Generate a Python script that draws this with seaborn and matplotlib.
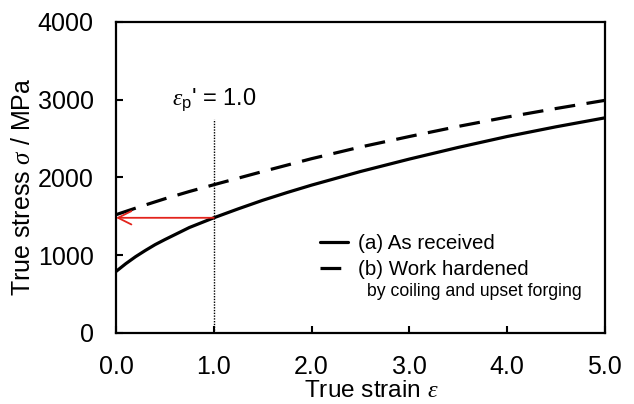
import matplotlib
matplotlib.use("Agg")
import matplotlib.pyplot as plt
import seaborn as sns
import pandas as pd

# ---- data ----
strain_a = [0.0, 0.1, 0.2, 0.3, 0.4, 0.5, 0.6, 0.75, 1.0, 1.25, 1.5, 1.75, 2.0, 2.5, 3.0, 3.5, 4.0, 4.5, 5.0]
stress_received = [790, 890, 980, 1060, 1135, 1200, 1262, 1355, 1480, 1595, 1705, 1805, 1900, 2075, 2235, 2385, 2525, 2650, 2765]
strain_b = [0.0, 0.25, 0.5, 0.75, 1.0, 1.5, 2.0, 2.5, 3.0, 3.5, 4.0, 4.5, 5.0]
stress_hardened = [1520, 1625, 1725, 1818, 1905, 2075, 2240, 2390, 2525, 2655, 2775, 2885, 2990]
label_a = "(a) As received"
label_b = "(b) Work hardened"
label_b2 = "by coiling and upset forging"
eps_p = 1.0
eps_p_line_top = 2750
arrow_stress = 1480
xticks = [0.0, 1.0, 2.0, 3.0, 4.0, 5.0]
xticklabels = ["0.0", "1.0", "2.0", "3.0", "4.0", "5.0"]
yticks = [0, 1000, 2000, 3000, 4000]

df_a = pd.DataFrame({"strain": strain_a, "stress": stress_received})
df_b = pd.DataFrame({"strain": strain_b, "stress": stress_hardened})

sns.set_style("ticks")
plt.rcParams["font.family"] = ["Liberation Sans", "DejaVu Sans"]
plt.rcParams["mathtext.fontset"] = "custom"
plt.rcParams["mathtext.rm"] = "Liberation Sans"
plt.rcParams["mathtext.it"] = "Liberation Serif:italic"

fig = plt.figure(figsize=(6.34, 4.04), dpi=100)
ax = fig.add_axes([0.183, 0.176, 0.771, 0.770])

sns.lineplot(data=df_a, x="strain", y="stress", ax=ax, color="black",
             linewidth=2.3, label=label_a)
sns.lineplot(data=df_b, x="strain", y="stress", ax=ax, color="black",
             linewidth=2.3, label=label_b)
ax.lines[1].set_dashes((6.5, 3.6))

ax.plot([eps_p, eps_p], [0, eps_p_line_top], color="black", linestyle=(0, (1, 1.0)), linewidth=1.0)
ax.annotate("", xy=(0.0, arrow_stress), xytext=(eps_p, arrow_stress),
            arrowprops=dict(arrowstyle="->", color="#e3241c", lw=1.3,
                            mutation_scale=24, shrinkA=0, shrinkB=0))
ax.text(eps_p, 3000, r"$\varepsilon_{\mathrm{p}}$' = 1.0", ha="center", va="center",
        fontsize=17, color="black")

ax.set_xlim(0, 5)
ax.set_ylim(0, 4000)
ax.set_xticks(xticks)
ax.set_xticklabels(xticklabels)
ax.set_yticks(yticks)
ax.tick_params(direction="in", length=5, width=1.5, labelsize=18, colors="black")
ax.tick_params(axis="x", pad=16)
ax.tick_params(axis="y", pad=16)
for s in ax.spines.values():
    s.set_linewidth(1.6)
    s.set_visible(True)
    s.set_color("black")

ax.set_xlabel(r"True strain $\varepsilon$", fontsize=17.6, color="black")
ax.set_ylabel(r"True stress $\sigma$ / MPa", fontsize=18, color="black")
ax.xaxis.set_label_coords(0.523, -0.15)
ax.yaxis.set_label_coords(-0.166, 0.47)

leg = ax.legend(loc="upper left", bbox_to_anchor=(0.417, 0.318), frameon=False,
                fontsize=14.8, handlelength=1.36, handletextpad=0.49,
                labelspacing=0.33, borderpad=0, borderaxespad=0)
for t in leg.get_texts():
    t.set_color("black")
ax.text(0.513, 0.132, label_b2, transform=ax.transAxes, fontsize=12.7, va="center",
        ha="left", color="black")

fig.savefig("out.png", dpi=100, facecolor="white")
